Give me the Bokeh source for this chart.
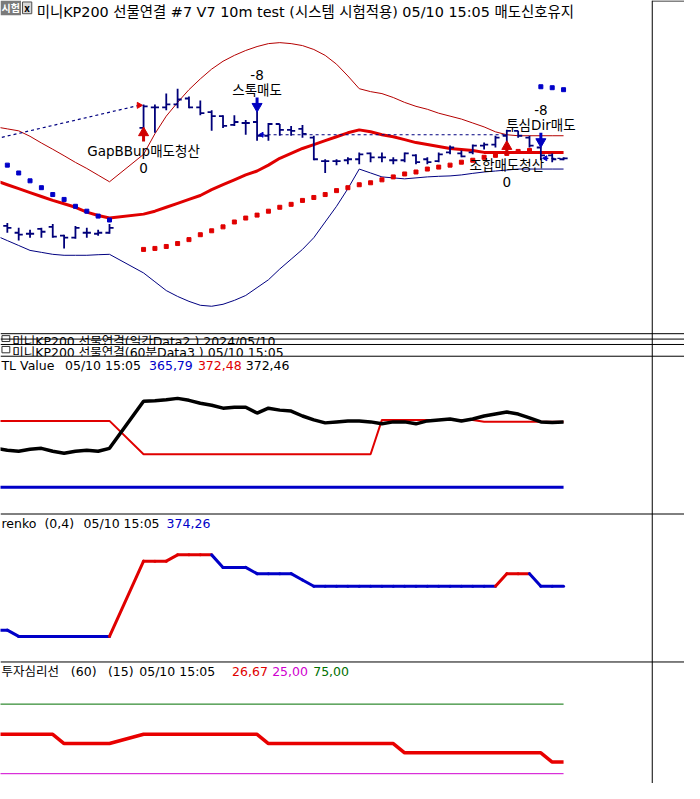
import numpy as np
from bokeh.plotting import figure
from bokeh.models import Range1d, ColumnDataSource
from bokeh.core.properties import value
from bokeh.embed import file_html
from bokeh.resources import INLINE

FONT = "DejaVu Sans, Noto Sans CJK KR"

# ------------------------------------------------------------------ data
title_text = "미니KP200 선물연결 #7 V7 10m test (시스템 시험적용) 05/10 15:05 매도신호유지"
daily_header = "미니KP200 선물연결(일간Data2 ) 2024/05/10"
hourly_header = "미니KP200 선물연결(60분Data3 ) 05/10 15:05"
stamp = "05/10 15:05"

# bar slots (10m bars); slots 10 and 11 carry no bar
bar_idx = [0, 1, 2, 3, 4, 5, 6, 7, 8, 9,
           12, 13, 14, 15, 16, 17, 18, 19, 20, 21,
           22, 23, 24, 25, 26, 27, 28, 29, 30, 31,
           32, 33, 34, 35, 36, 37, 38, 39, 40, 41,
           42, 43, 44, 45, 46, 47, 48, 49]
bar_open = [373.50, 373.15, 373.10, 373.35, 373.45, 373.00, 372.90, 373.15, 373.10, 373.15,
            378.50, 379.55, 379.55, 379.70, 380.00, 379.55, 379.30, 379.10, 378.65, 378.75,
            378.80, 378.10, 378.70, 378.40, 378.45, 378.00, 376.80, 376.80, 376.85, 376.90,
            377.20, 377.00, 376.85, 376.85, 377.10, 376.90, 376.80, 377.25, 377.20, 377.25,
            377.60, 377.65, 378.10, 378.35, 378.00, 377.50, 377.10, 376.90]
bar_high = [373.65, 373.40, 373.30, 373.40, 373.60, 373.05, 373.50, 373.40, 373.30, 373.60,
            379.70, 379.70, 380.25, 380.50, 380.10, 379.90, 379.40, 379.15, 379.15, 378.90,
            379.35, 378.75, 378.70, 378.60, 378.65, 378.10, 376.90, 376.90, 377.00, 377.25,
            377.25, 377.25, 377.00, 377.25, 377.15, 377.00, 377.25, 377.60, 377.35, 377.65,
            377.75, 378.10, 378.40, 378.35, 378.10, 377.55, 377.20, 377.00]
bar_low = [373.15, 372.75, 372.90, 372.90, 372.90, 372.35, 372.85, 372.90, 373.00, 373.10,
           378.45, 378.25, 379.40, 379.50, 379.50, 379.15, 378.35, 378.50, 378.60, 378.15,
           377.85, 377.85, 378.10, 378.10, 378.00, 376.85, 376.20, 376.60, 376.65, 376.65,
           376.75, 376.75, 376.65, 376.75, 376.65, 376.65, 376.75, 377.15, 377.00, 377.15,
           377.40, 377.50, 377.75, 378.00, 377.50, 376.85, 376.75, 376.85]
bar_close = [373.40, 373.05, 373.10, 373.20, 372.95, 372.90, 373.40, 373.15, 373.15, 373.40,
             379.60, 379.55, 379.70, 379.95, 379.55, 379.25, 379.10, 378.60, 378.80, 378.75,
             378.10, 378.70, 378.40, 378.35, 378.20, 376.90, 376.80, 376.80, 376.90, 377.15,
             377.00, 377.00, 376.85, 377.20, 376.75, 376.75, 377.15, 377.50, 377.05, 377.60,
             377.65, 378.00, 378.35, 378.10, 377.60, 377.10, 376.90, 376.95]
sar = [376.60, 376.20, 375.80, 375.45, 375.10, 374.85, 374.50, 374.25, 374.00, 373.80,
       372.30, 372.35, 372.45, 372.60, 372.80, 373.05, 373.25, 373.45, 373.70, 373.90,
       374.05, 374.25, 374.45, 374.60, 374.80, 374.95, 375.10, 375.30, 375.45, 375.60,
       375.70, 375.85, 376.00, 376.15, 376.25, 376.40, 376.50, 376.60, 376.75, 376.85,
       377.00, 377.10, 377.20, 377.30, 377.35, 380.60, 380.55, 380.45]

# indicator slots (one earlier slot, partly off the left edge)
line_idx = [-1, 0, 1, 2, 3, 4, 5, 6, 7, 8, 9,
            12, 13, 14, 15, 16, 17, 18, 19, 20, 21,
            22, 23, 24, 25, 26, 27, 28, 29, 30, 31,
            32, 33, 34, 35, 36, 37, 38, 39, 40, 41,
            42, 43, 44, 45, 46, 47, 48, 49]
bb_upper = [378.55, 378.45, 378.35, 378.07, 377.73, 377.41, 377.08, 376.74, 376.43, 376.09, 375.75,
            377.15, 378.20, 379.10, 379.80, 380.45, 381.00, 381.50, 381.90, 382.20, 382.45,
            382.65, 382.80, 382.85, 382.80, 382.70, 382.50, 382.20, 381.75, 381.15, 380.50,
            380.35, 380.25, 380.05, 379.80, 379.60, 379.45, 379.25, 379.10, 378.95, 378.75,
            378.55, 378.30, 378.15, 378.10, 378.10, 378.10, 378.10, 378.10]
bb_mid = [375.80, 375.60, 375.40, 375.20, 375.00, 374.80, 374.63, 374.45, 374.20, 374.03, 373.90,
          374.10, 374.25, 374.45, 374.65, 374.85, 375.05, 375.35, 375.60, 375.85, 376.10,
          376.30, 376.60, 376.95, 377.20, 377.45, 377.65, 377.85, 378.05, 378.25, 378.40,
          378.30, 378.15, 378.05, 377.90, 377.75, 377.65, 377.55, 377.45, 377.40, 377.35,
          377.25, 377.25, 377.25, 377.25, 377.25, 377.25, 377.25, 377.25]
bb_lower = [373.00, 372.75, 372.50, 372.25, 372.15, 372.05, 372.00, 372.00, 372.00, 372.03, 372.05,
            371.10, 370.65, 370.20, 369.90, 369.65, 369.45, 369.40, 369.50, 369.70, 369.95,
            370.35, 370.75, 371.30, 371.80, 372.30, 372.90, 373.70, 374.50, 375.40, 376.40,
            376.20, 376.00, 375.95, 375.90, 375.95, 376.00, 376.03, 376.05, 376.10, 376.18,
            376.25, 376.30, 376.35, 376.40, 376.40, 376.40, 376.40, 376.40]

# trade lines (entry -> exit) and signals
trade_x0 = [-1, 22, 47]
trade_p0 = [377.95, 378.15, 376.95]
trade_x1 = [11.6, 44, 49]
trade_p1 = [379.65, 378.15, 376.95]
sig_idx = [12, 22, 44, 47]
sig_side = ["exit", "short", "exit", "short"]
sig_name = ["GapBBup매도청산", "스톡매도", "조합매도청산", "투심Dir매도"]
sig_pos = ["0", "-8", "0", "-8"]

# TL Value panel
tl_base = 365.79
tl_line = [372.56, 372.56, 372.56, 372.56, 372.56, 372.56, 372.56, 372.56, 372.56, 372.56, 372.56,
           369.16, 369.16, 369.16, 369.16, 369.16, 369.16, 369.16, 369.16, 369.16, 369.16,
           369.16, 369.16, 369.16, 369.16, 369.16, 369.16, 369.16, 369.16, 369.16, 369.16,
           369.16, 372.66, 372.66, 372.66, 372.66, 372.66, 372.66, 372.66, 372.66, 372.66,
           372.48, 372.48, 372.48, 372.48, 372.48, 372.48, 372.48, 372.48]
tl_value = [369.76, 369.56, 369.46, 369.66, 369.76, 369.46, 369.26, 369.46, 369.56, 369.46, 369.76,
            374.56, 374.61, 374.71, 374.86, 374.66, 374.36, 374.16, 373.86, 373.96, 373.96,
            373.36, 373.86, 373.66, 373.56, 373.06, 372.66, 372.36, 372.46, 372.56, 372.56,
            372.46, 372.26, 372.46, 372.46, 372.26, 372.56, 372.66, 372.76, 372.56, 372.76,
            373.06, 373.26, 373.46, 373.26, 372.86, 372.46, 372.41, 372.46]

# renko (brick 0.4)
renko = [371.46, 371.46, 371.06, 371.06, 371.06, 371.06, 371.06, 371.06, 371.06, 371.06, 371.06,
         375.86, 375.86, 375.86, 376.26, 376.26, 376.26, 376.26, 375.46, 375.46, 375.46,
         375.06, 375.06, 375.06, 375.06, 374.66, 374.26, 374.26, 374.26, 374.26, 374.26,
         374.26, 374.26, 374.26, 374.26, 374.26, 374.26, 374.26, 374.26, 374.26, 374.26,
         374.26, 374.26, 375.06, 375.06, 375.06, 374.26, 374.26, 374.26]

# 투자심리선 (60)(15)
psy = [53.33, 53.33, 53.33, 53.33, 53.33, 53.33, 46.67, 46.67, 46.67, 46.67, 46.67,
       53.33, 53.33, 53.33, 53.33, 53.33, 53.33, 53.33, 53.33, 53.33, 53.33,
       53.33, 46.67, 46.67, 46.67, 46.67, 46.67, 46.67, 46.67, 46.67, 46.67,
       46.67, 46.67, 46.67, 40.00, 40.00, 40.00, 40.00, 40.00, 40.00, 40.00,
       40.00, 40.00, 40.00, 40.00, 40.00, 40.00, 33.33, 33.33, 26.67]
psy_low, psy_high = 25.00, 75.00

# ------------------------------------------------------------------ layout / style
REF_W, REF_H = 700, 799          # layout units of the original screen
W, H = 684, 783                  # page pixels (fits inside the 8px page margin)
X0_PX, BAR_PX = 7.0, 11.617      # first bar position and spacing, layout units
SPLIT_X = 667
TICK = 0.36
MAIN_TOP, MAIN_BOT = (0, 385.0), (340, 368.0)
K = (MAIN_TOP[1] - MAIN_BOT[1]) / (MAIN_BOT[0] - MAIN_TOP[0])   # price per layout unit

NAVY = "#000080"
BAR_C = "#00007A"
RED = "#E00000"
DRED = "#B40000"
BLUE = "#0000C8"
MAG = "#D000D0"
GRN = "#007000"
HDR = "12.5px"


def band_range(p_a, v_a, p_b, v_b):
    k = (v_a - v_b) / (p_b - p_a)
    return Range1d(start=v_b - k * (REF_H - p_b), end=v_a + k * p_a)


def fmt(v):
    return f"{v:.2f}".replace(".", ",")


p = figure(width=W, height=H,
           x_range=Range1d((0 - X0_PX) / BAR_PX, (REF_W - X0_PX) / BAR_PX),
           y_range=Range1d(REF_H, 0),
           x_axis_type=None, y_axis_type=None,
           toolbar_location=None, output_backend="svg",
           min_border=0, outline_line_color=None,
           background_fill_color="white", border_fill_color="white")
p.min_border_left = p.min_border_right = p.min_border_top = p.min_border_bottom = 0
p.extra_x_ranges = {"px": Range1d(0, REF_W)}
p.extra_y_ranges = {
    "main": band_range(MAIN_TOP[0], MAIN_TOP[1], MAIN_BOT[0], MAIN_BOT[1]),
    "tl": band_range(430, 372.46, 496.7, 365.79),
    "rk": band_range(597.7, 374.26, 572.1, 375.86),
    "psy": band_range(718, 75.0, 789, 25.0),
}

# ---------------- main price panel
p.line(line_idx, bb_upper, y_range_name="main", line_color=DRED, line_width=1)
p.line(line_idx, bb_lower, y_range_name="main", line_color=NAVY, line_width=1)
p.line(line_idx, bb_mid, y_range_name="main", line_color=RED, line_width=3)

sar_col = [BLUE if s > c else RED for s, c in zip(sar, bar_close)]
p.scatter(bar_idx, sar, y_range_name="main", marker="square", size=4,
          fill_color=sar_col, line_color=sar_col)

ex0 = [x + (0.4 if n > 0 else 0) for n, x in enumerate(trade_x0)]
p.segment(x0=ex0, y0=trade_p0, x1=trade_x1, y1=trade_p1, y_range_name="main",
          line_color=NAVY, line_width=1.2, line_dash="3 3")
p.scatter([trade_x1[0]], [trade_p1[0]], y_range_name="main", marker="triangle",
          angle=-np.pi / 2, size=6, fill_color=RED, line_color=RED)
p.scatter(ex0[1:], trade_p0[1:], y_range_name="main", marker="triangle",
          angle=np.pi / 2, size=5, fill_color=BLUE, line_color=BLUE)

bx = np.array(bar_idx, dtype=float)
p.segment(x0=bx, y0=bar_high, x1=bx, y1=bar_low, y_range_name="main",
          line_color=BAR_C, line_width=1.8)
p.segment(x0=bx - TICK, y0=bar_open, x1=bx, y1=bar_open, y_range_name="main",
          line_color=BAR_C, line_width=1.8)
p.segment(x0=bx, y0=bar_close, x1=bx + TICK, y1=bar_close, y_range_name="main",
          line_color=BAR_C, line_width=1.8)

pos_of = {i: n for n, i in enumerate(bar_idx)}
ax, tip, tail, hy, hm, hc, lab_y, pos_y = [], [], [], [], [], [], [], []
for i, side in zip(sig_idx, sig_side):
    n = pos_of[i]
    ax.append(i)
    if side == "exit":
        b = bar_low[n]
        tip.append(b - 1 * K); hy.append(b - 4 * K); tail.append(b - 13 * K)
        lab_y.append(b - 23 * K); pos_y.append(b - 40 * K)
        hm.append("triangle"); hc.append("#D00000")
    else:
        b = bar_high[n]
        tip.append(b + 2 * K); hy.append(b + 5 * K); tail.append(b + 14 * K)
        lab_y.append(b + 22 * K); pos_y.append(b + 37 * K)
        hm.append("inverted_triangle"); hc.append("#0000C0")
p.segment(x0=ax, y0=hy, x1=ax, y1=tail, y_range_name="main", line_color=hc, line_width=3)
p.scatter(ax, hy, y_range_name="main", marker=hm, size=10, fill_color=hc, line_color=hc)
p.text(x=ax + ax, y=lab_y + pos_y, text=sig_name + sig_pos, y_range_name="main",
       text_font=value(FONT), text_font_size=value("13.5px"), text_color="black",
       text_align="center", text_baseline="middle")

# ---------------- TL Value panel
p.line([line_idx[0], line_idx[-1]], [tl_base, tl_base], y_range_name="tl", line_color=BLUE, line_width=3)
p.line(line_idx, tl_line, y_range_name="tl", line_color=RED, line_width=2)
p.line(line_idx, tl_value, y_range_name="tl", line_color="black", line_width=3.5)

# ---------------- renko panel
rk = renko
seg_col, trend = [], -1
for a, b in zip(rk[:-1], rk[1:]):
    if b > a:
        trend = 1
    elif b < a:
        trend = -1
    seg_col.append(RED if trend > 0 else BLUE)
p.segment(x0=line_idx[:-1], y0=rk[:-1], x1=line_idx[1:], y1=rk[1:], y_range_name="rk",
          line_color=seg_col, line_width=3, line_cap="round")

# ---------------- 투자심리선 panel
p.line([line_idx[0], line_idx[-1]], [psy_high, psy_high], y_range_name="psy", line_color=GRN, line_width=1)
p.line([line_idx[0], line_idx[-1]], [psy_low, psy_low], y_range_name="psy", line_color=MAG, line_width=1)
p.line(line_idx, psy, y_range_name="psy", line_color="#E80000", line_width=3.5)

# ---------------- collapsed panes (daily / 60m) with clipped headers
p.text(x=[12], y=[347.5], text=[daily_header], x_range_name="px",
       text_font=value(FONT), text_font_size=value(HDR), text_color="black",
       text_baseline="middle")
p.quad(left=[0], right=[SPLIT_X], top=[351], bottom=[363], x_range_name="px",
       fill_color="white", line_color=None)
p.text(x=[12], y=[359], text=[hourly_header], x_range_name="px",
       text_font=value(FONT), text_font_size=value(HDR), text_color="black",
       text_baseline="middle")
p.quad(left=[0, 0], right=[SPLIT_X, SPLIT_X], top=[334, 363], bottom=[340, 366.5],
       x_range_name="px", fill_color="white", line_color=None)
p.quad(left=[1.5, 1.5], right=[9.5, 9.5], top=[342, 353], bottom=[348, 359.5],
       x_range_name="px", fill_color=None, line_color="#303030", line_width=1)

# ---------------- header texts
hx, hy_, ht, hcol, hs = [], [], [], [], []


def put(x, y, t, c="black", s=HDR):
    hx.append(x); hy_.append(y); ht.append(t); hcol.append(c); hs.append(s)


put(37, 11.5, title_text, "black", "14.4px")
put(1, 372.5, "TL Value"); put(66, 372.5, stamp)
put(152, 372.5, fmt(tl_base), BLUE); put(202, 372.5, fmt(tl_line[-1]), RED)
put(251, 372.5, fmt(tl_value[-1]), "black")
put(1, 534, "renko"); put(45, 534, "(0,4)"); put(85, 534, stamp)
put(170, 534, fmt(renko[-1]), BLUE)
put(1, 685, "투자심리선"); put(72, 685, "(60)"); put(110, 685, "(15)"); put(142, 685, stamp)
put(237, 685, fmt(psy[-1]), RED); put(278, 685, fmt(psy_low), MAG)
put(320, 685, fmt(psy_high), GRN)
hsrc = ColumnDataSource(dict(x=hx, y=hy_, text=ht, color=hcol, size=hs))
p.text(x="x", y="y", text="text", text_color="color", text_font_size="size",
       source=hsrc, x_range_name="px", text_font=value(FONT), text_baseline="middle")

# title-bar badges
p.quad(left=[0], right=[21], top=[0], bottom=[15], x_range_name="px",
       fill_color="#7A7A7A", line_color=None)
p.quad(left=[22.5], right=[32], top=[1.5], bottom=[13.5], x_range_name="px",
       fill_color="#D8D8D8", line_color="#505050")
p.text(x=[10.5, 27.3], y=[7.5, 7.2], text=["시험", "x"], x_range_name="px",
       text_font=value("Noto Sans CJK KR"), text_font_size=value("10px"),
       text_color=["white", "black"], text_font_style="bold",
       text_align="center", text_baseline="middle")

# ---------------- frame lines
sep_y = [340, 345.5, 351, 363, 524, 675]
p.segment(x0=[0] * len(sep_y), y0=sep_y, x1=[REF_W] * len(sep_y), y1=sep_y,
          x_range_name="px", line_color="black", line_width=1)
p.segment(x0=[SPLIT_X, SPLIT_X], y0=[0, 0.5], x1=[SPLIT_X, REF_W], y1=[REF_H, 0.5],
          x_range_name="px", line_color="black", line_width=1)

open("out.html", "w").write(file_html(p, INLINE))
